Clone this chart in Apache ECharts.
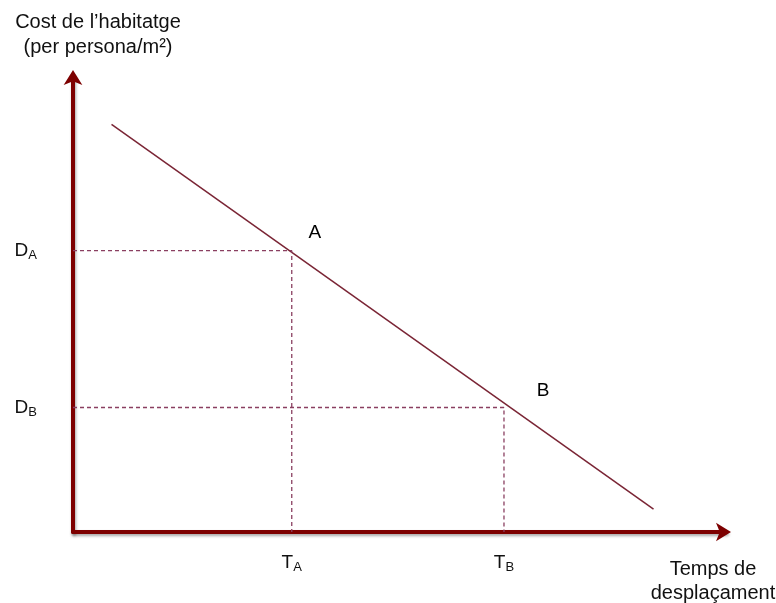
<!DOCTYPE html>
<html>
<head>
<meta charset="utf-8">
<script src="https://cdn.jsdelivr.net/npm/echarts@6/dist/echarts.min.js"></script>
<style>
html,body{margin:0;padding:0;background:#fff;}
#c{width:776px;height:603px;}
</style>
</head>
<body>
<div id="c"></div>
<script>
// Conceptual chart values (abstract units 0..10)
var demandLineX = [0.59, 8.89];
var demandLineY = [8.94, 0.50];
var pointNames = ['A', 'B'];
var pointTime = [3.35, 6.60];   // T_A, T_B
var pointCost = [6.17, 2.73];   // D_A, D_B
var yTitle = 'Cost de l\u2019habitatge\n(per persona/m\u00b2)';
var xTitle = 'Temps de\ndesplaçament';

var axisColor = '#7d0000';
var FONT = '"Liberation Sans", Arial, sans-serif';

function subLabel(letter, sub) { return '{m|' + letter + '}{s|' + sub + '}'; }
var richSub = {
  m: { fontSize: 19, lineHeight: 22, color: '#111', fontFamily: FONT },
  s: { fontSize: 13, lineHeight: 12, color: '#111', fontFamily: FONT, verticalAlign: 'bottom' }
};

var axisLineStyle = {
  color: axisColor, width: 4,
  shadowColor: 'rgba(0,0,0,0.35)', shadowBlur: 3, shadowOffsetX: 1, shadowOffsetY: 2
};

var series = [];
series.push({
  type: 'line', symbol: 'none', silent: true,
  data: demandLineX.map(function (x, i) { return [x, demandLineY[i]]; }),
  lineStyle: { color: '#7a2535', width: 1.5 }
});
pointNames.forEach(function (n, i) {
  series.push({
    type: 'line', symbol: 'none', silent: true,
    data: [[0, pointCost[i]], [pointTime[i], pointCost[i]], [pointTime[i], 0]],
    lineStyle: { color: '#8a3f60', width: 1.3, type: [4, 3] }
  });
});
var labelOffsets = [[23, -18], [39, -17]];
series.push({
  type: 'scatter', symbolSize: 0, silent: true,
  itemStyle: { opacity: 1 },
  data: pointNames.map(function (n, i) {
    return {
      name: n, value: [pointTime[i], pointCost[i]],
      label: { show: true, formatter: n, position: 'inside', offset: labelOffsets[i],
               fontSize: 19, color: '#000', opacity: 1, fontFamily: FONT }
    };
  })
});

var option = {
  animation: false,
  backgroundColor: '#fff',
  title: [
    { text: yTitle, left: 93, top: 5, textAlign: 'center',
      textStyle: { fontSize: 20, fontWeight: 'normal', color: '#111', fontFamily: FONT, lineHeight: 25 } },
    { text: xTitle, left: 708, top: 552, textAlign: 'center',
      textStyle: { fontSize: 20, fontWeight: 'normal', color: '#111', fontFamily: FONT, lineHeight: 24 } }
  ],
  grid: { left: 73, right: 50, top: 76, bottom: 71, containLabel: false },
  xAxis: {
    type: 'value', min: 0, max: 10,
    splitLine: { show: false },
    axisTick: { show: false },
    axisLine: { show: true, onZero: false, symbol: ['none', 'arrow'], symbolSize: [14, 15], symbolOffset: [0, 5], lineStyle: axisLineStyle },
    axisLabel: {
      customValues: pointTime, margin: 20,
      formatter: function (v) { var i = pointTime.indexOf(v); return i < 0 ? '' : subLabel('T', pointNames[i]); },
      rich: richSub
    }
  },
  yAxis: {
    type: 'value', min: 0, max: 10,
    splitLine: { show: false },
    axisTick: { show: false },
    axisLine: { show: true, onZero: false, symbol: ['none', 'arrow'], symbolSize: [14, 15], symbolOffset: [0, 6], lineStyle: axisLineStyle },
    axisLabel: {
      customValues: pointCost, margin: 36,
      formatter: function (v) { var i = pointCost.indexOf(v); return i < 0 ? '' : subLabel('D', pointNames[i]); },
      rich: richSub
    }
  },
  series: series
};

var chart = echarts.init(document.getElementById('c'), null, { renderer: 'canvas' });
chart.setOption(option);
</script>
</body>
</html>
